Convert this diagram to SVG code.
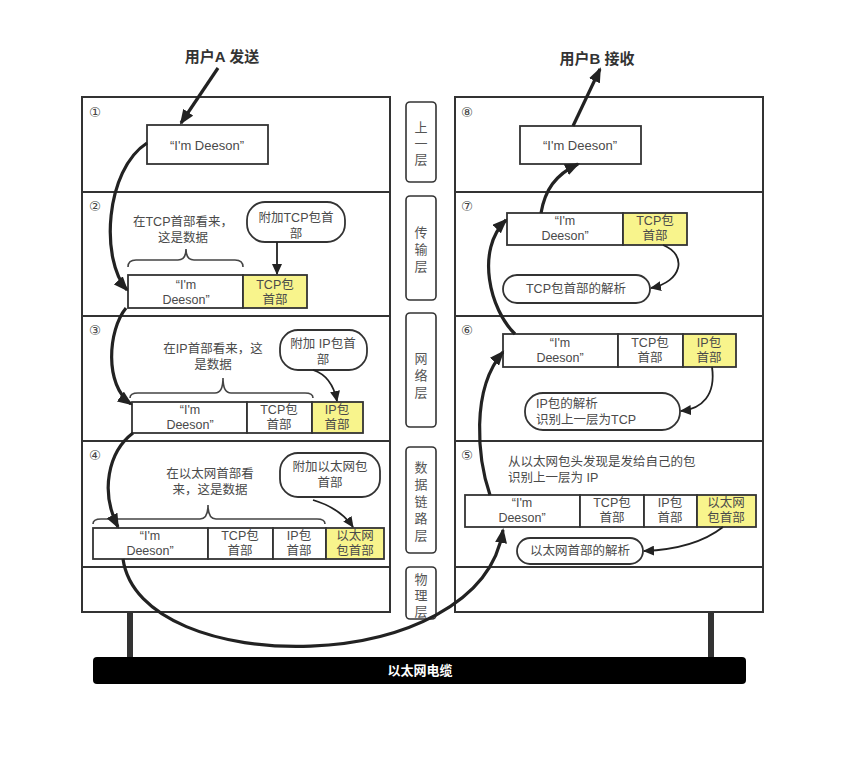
<svg xmlns="http://www.w3.org/2000/svg" width="843" height="762" viewBox="0 0 843 762">
<defs>
<style>
.panel{fill:#fff;stroke:#333;stroke-width:2}
.div{stroke:#333;stroke-width:2}
.cell{fill:#fff;stroke:#333;stroke-width:1.8}
.hdr{fill:#f8f48c;stroke:#333;stroke-width:1.8}
.bub{fill:#fff;stroke:#333;stroke-width:1.8}
.lay{fill:#fff;stroke:#333;stroke-width:1.6}
.t{font-family:"Liberation Sans","Noto Sans CJK SC",sans-serif;font-size:12.5px;fill:#4a4a4a;text-anchor:middle;dominant-baseline:central}
.tl{text-anchor:start}
.num{font-family:"DejaVu Sans","Noto Sans CJK SC",sans-serif;font-size:13.5px;fill:#444;text-anchor:middle;dominant-baseline:central}
.head{font-family:"Liberation Sans","Noto Sans CJK SC",sans-serif;font-size:15px;font-weight:bold;fill:#333;text-anchor:middle;dominant-baseline:central}
.mid{font-family:"Liberation Sans","Noto Sans CJK SC",sans-serif;font-size:13px;fill:#555;text-anchor:middle;dominant-baseline:central}
.brace{fill:none;stroke:#444;stroke-width:1.6}
.thick{fill:none;stroke:#222;stroke-width:3.2;marker-end:url(#ah)}
.thin{fill:none;stroke:#222;stroke-width:1.8;marker-end:url(#ahs)}
</style>
<marker id="ah" markerUnits="userSpaceOnUse" markerWidth="16" markerHeight="12" refX="13" refY="6" orient="auto"><path d="M0,0 L15,6 L0,12 z" fill="#222"/></marker>
<marker id="ahs" markerUnits="userSpaceOnUse" markerWidth="12" markerHeight="10" refX="10" refY="5" orient="auto"><path d="M0,0 L11,5 L0,10 z" fill="#222"/></marker>
</defs>
<rect width="843" height="762" fill="#fff"/>

<g id="cable">
<rect x="127" y="610" width="6" height="50" fill="#333"/>
<rect x="708" y="610" width="6" height="50" fill="#333"/>
<rect x="93" y="657" width="653" height="27" rx="4" fill="#000"/>
<text class="head" x="420" y="670" style="fill:#fff;font-size:13px">以太网电缆</text>
</g>

<g id="left-panel">
<rect class="panel" x="82" y="97" width="308" height="515"/>
<line class="div" x1="82" y1="192" x2="390" y2="192"/>
<line class="div" x1="82" y1="316" x2="390" y2="316"/>
<line class="div" x1="82" y1="441" x2="390" y2="441"/>
<line class="div" x1="82" y1="567" x2="390" y2="567"/>
<text class="num" x="95" y="112">①</text>
<text class="num" x="95" y="206">②</text>
<text class="num" x="95" y="330">③</text>
<text class="num" x="95" y="455">④</text>
</g>

<g id="right-panel">
<rect class="panel" x="455" y="97" width="308" height="515"/>
<line class="div" x1="455" y1="192" x2="763" y2="192"/>
<line class="div" x1="455" y1="316" x2="763" y2="316"/>
<line class="div" x1="455" y1="441" x2="763" y2="441"/>
<line class="div" x1="455" y1="567" x2="763" y2="567"/>
<text class="num" x="467" y="112">⑧</text>
<text class="num" x="467" y="206">⑦</text>
<text class="num" x="467" y="330">⑥</text>
<text class="num" x="467" y="455">⑤</text>
</g>

<g id="layers">
<rect class="lay" x="406" y="102" width="30" height="80" rx="4"/>
<text class="mid" x="421" y="127">上</text><text class="mid" x="421" y="143">一</text><text class="mid" x="421" y="159">层</text>
<rect class="lay" x="406" y="196" width="30" height="104" rx="4"/>
<text class="mid" x="421" y="232">传</text><text class="mid" x="421" y="249">输</text><text class="mid" x="421" y="266">层</text>
<rect class="lay" x="406" y="313" width="30" height="114" rx="4"/>
<text class="mid" x="421" y="358">网</text><text class="mid" x="421" y="375">络</text><text class="mid" x="421" y="392">层</text>
<rect class="lay" x="406" y="447" width="30" height="106" rx="4"/>
<text class="mid" x="421" y="467">数</text><text class="mid" x="421" y="484">据</text><text class="mid" x="421" y="501">链</text><text class="mid" x="421" y="518">路</text><text class="mid" x="421" y="535">层</text>
<rect class="lay" x="406" y="567" width="30" height="52" rx="4"/>
<text class="mid" x="421" y="579">物</text><text class="mid" x="421" y="595">理</text><text class="mid" x="421" y="611">层</text>
</g>

<g id="userA"><text class="head" x="222" y="56">用户A 发送</text></g>
<g id="userB"><text class="head" x="597" y="58">用户B 接收</text></g>

<g id="data1">
<rect class="cell" x="147" y="125" width="121" height="39"/>
<text class="t" x="207" y="145" style="font-size:13px">“I'm Deeson”</text>
</g>

<g id="note2">
<text class="t" x="183" y="222">在TCP首部看来，</text>
<text class="t" x="183" y="238">这是数据</text>
<path class="brace" d="M128,267 Q128,260 136,260 L178,260 Q186,260 186,249 Q186,260 194,260 L235,260 Q243,260 243,267"/>
</g>
<g id="callout2">
<rect class="bub" x="247" y="202" width="98" height="40" rx="18"/>
<text class="t" x="296" y="218">附加TCP包首</text>
<text class="t" x="296" y="234">部</text>
</g>
<g id="packet2">
<rect class="cell" x="128" y="275" width="115" height="33"/>
<rect class="hdr" x="243" y="275" width="64" height="33"/>
<text class="t" x="186" y="285">“I'm</text><text class="t" x="186" y="300">Deeson”</text>
<text class="t" x="275" y="285">TCP包</text><text class="t" x="275" y="300">首部</text>
</g>

<g id="note3">
<text class="t" x="213" y="349">在IP首部看来，这</text>
<text class="t" x="213" y="365">是数据</text>
<path class="brace" d="M130,398 Q130,393 138,393 L215,393 Q223,393 223,378 Q223,393 231,393 L305,393 Q313,393 313,398"/>
</g>
<g id="callout3">
<rect class="bub" x="280" y="330" width="87" height="40" rx="18"/>
<text class="t" x="323" y="344">附加 IP包首</text>
<text class="t" x="323" y="360">部</text>
</g>
<g id="packet3">
<rect class="cell" x="132" y="402" width="115" height="31"/>
<rect class="cell" x="247" y="402" width="65" height="31"/>
<rect class="hdr" x="312" y="402" width="51" height="31"/>
<text class="t" x="190" y="410">“I'm</text><text class="t" x="190" y="425">Deeson”</text>
<text class="t" x="279" y="410">TCP包</text><text class="t" x="279" y="425">首部</text>
<text class="t" x="337" y="410">IP包</text><text class="t" x="337" y="425">首部</text>
</g>

<g id="note4">
<text class="t" x="210" y="474">在以太网首部看</text>
<text class="t" x="210" y="490">来，这是数据</text>
<path class="brace" d="M93,524 Q93,519 101,519 L200,519 Q208,519 208,505 Q208,519 216,519 L317,519 Q325,519 325,524"/>
</g>
<g id="callout4">
<rect class="bub" x="280" y="453" width="100" height="44" rx="18"/>
<text class="t" x="330" y="467">附加以太网包</text>
<text class="t" x="330" y="483">首部</text>
</g>
<g id="packet4">
<rect class="cell" x="93" y="528" width="115" height="31"/>
<rect class="cell" x="208" y="528" width="65" height="31"/>
<rect class="cell" x="273" y="528" width="53" height="31"/>
<rect class="hdr" x="326" y="528" width="58" height="31"/>
<text class="t" x="150" y="536">“I'm</text><text class="t" x="150" y="551">Deeson”</text>
<text class="t" x="240" y="536">TCP包</text><text class="t" x="240" y="551">首部</text>
<text class="t" x="299" y="536">IP包</text><text class="t" x="299" y="551">首部</text>
<text class="t" x="355" y="536">以太网</text><text class="t" x="355" y="551">包首部</text>
</g>

<g id="data8">
<rect class="cell" x="520" y="126" width="121" height="38"/>
<text class="t" x="580" y="145" style="font-size:13px">“I'm Deeson”</text>
</g>

<g id="packet7">
<rect class="cell" x="507" y="213" width="116" height="32"/>
<rect class="hdr" x="623" y="213" width="64" height="32"/>
<text class="t" x="565" y="221">“I'm</text><text class="t" x="565" y="236">Deeson”</text>
<text class="t" x="655" y="221">TCP包</text><text class="t" x="655" y="236">首部</text>
</g>
<g id="callout7">
<rect class="bub" x="503" y="275" width="147" height="28" rx="14"/>
<text class="t" x="576" y="289">TCP包首部的解析</text>
</g>

<g id="packet6">
<rect class="cell" x="503" y="334" width="115" height="33"/>
<rect class="cell" x="618" y="334" width="65" height="33"/>
<rect class="hdr" x="683" y="334" width="53" height="33"/>
<text class="t" x="560" y="343">“I'm</text><text class="t" x="560" y="358">Deeson”</text>
<text class="t" x="650" y="343">TCP包</text><text class="t" x="650" y="358">首部</text>
<text class="t" x="709" y="343">IP包</text><text class="t" x="709" y="358">首部</text>
</g>
<g id="callout6">
<rect class="bub" x="525" y="393" width="155" height="37" rx="18"/>
<text class="t tl" x="536" y="404">IP包的解析</text>
<text class="t tl" x="536" y="420">识别上一层为TCP</text>
</g>

<g id="note5">
<text class="t tl" x="508" y="462">从以太网包头发现是发给自己的包</text>
<text class="t tl" x="508" y="478">识别上一层为 IP</text>
</g>
<g id="packet5">
<rect class="cell" x="465" y="495" width="115" height="32"/>
<rect class="cell" x="580" y="495" width="64" height="32"/>
<rect class="cell" x="644" y="495" width="53" height="32"/>
<rect class="hdr" x="697" y="495" width="59" height="32"/>
<text class="t" x="522" y="503">“I'm</text><text class="t" x="522" y="518">Deeson”</text>
<text class="t" x="612" y="503">TCP包</text><text class="t" x="612" y="518">首部</text>
<text class="t" x="670" y="503">IP包</text><text class="t" x="670" y="518">首部</text>
<text class="t" x="726" y="503">以太网</text><text class="t" x="726" y="518">包首部</text>
</g>
<g id="callout5">
<rect class="bub" x="517" y="538" width="126" height="26" rx="13"/>
<text class="t" x="580" y="551">以太网首部的解析</text>
</g>

<g id="connectors">
<path class="thick" d="M218,68 L181,123"/>
<path class="thick" d="M147,143 C105,170 100,260 127,290"/>
<path class="thick" d="M126,308 C108,330 104,385 131,404"/>
<path class="thick" d="M133,433 C108,452 100,492 118,527"/>
<path class="thick" d="M123,559 C140,680 480,680 503,530"/>
<path class="thick" d="M490,495 C478,460 470,390 503,352"/>
<path class="thick" d="M515,334 C490,310 475,250 506,220"/>
<path class="thick" d="M541,213 C545,190 555,175 578,164"/>
<path class="thick" d="M573,126 L600,69"/>
<path class="thin" d="M277,242 L277,274"/>
<path class="thin" d="M313,370 Q332,376 337,401"/>
<path class="thin" d="M313,500 Q340,508 353,527"/>
<path class="thin" d="M663,245 C688,255 682,282 651,288"/>
<path class="thin" d="M712,367 C716,395 702,409 681,411"/>
<path class="thin" d="M723,527 C700,545 670,550 644,551"/>
</g>
</svg>
